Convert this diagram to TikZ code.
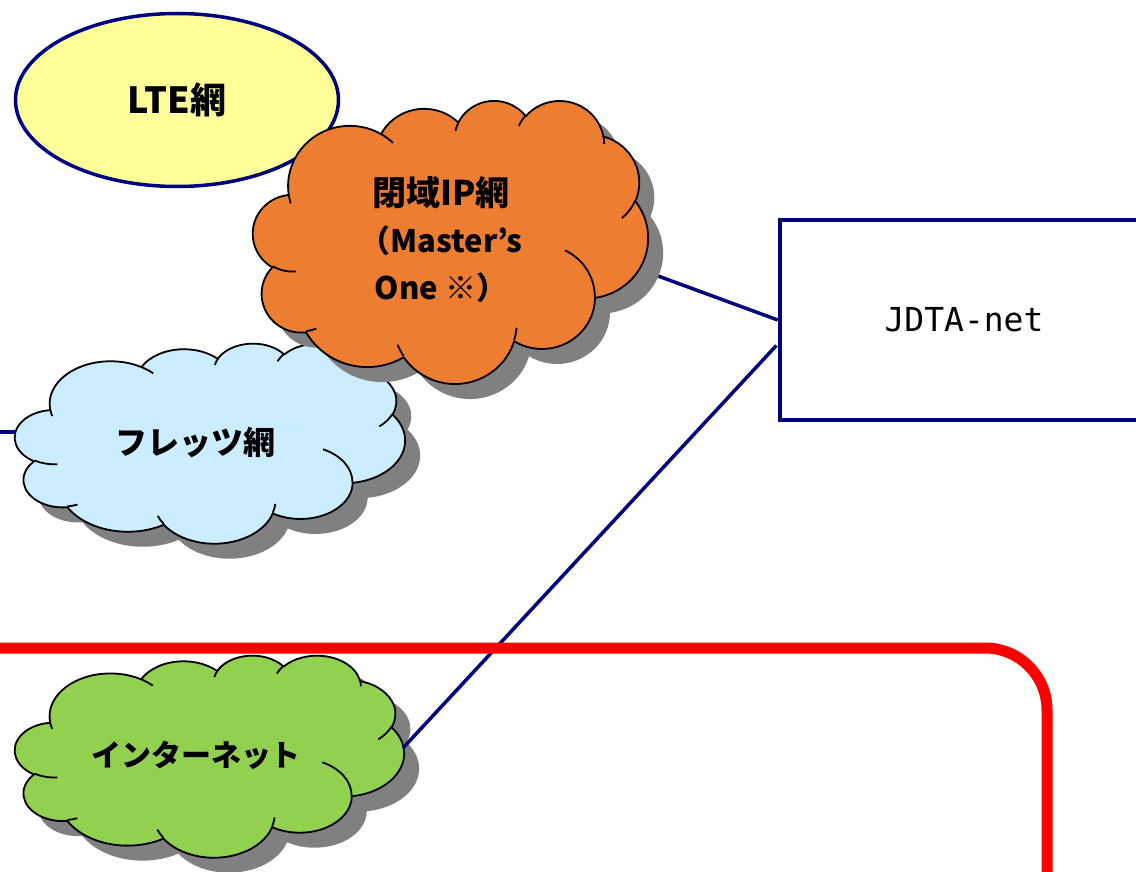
\documentclass[tikz,border=0pt]{standalone}
\usepackage{fontspec}
\setmainfont{Noto Sans CJK JP}
\newfontfamily\monofont{DejaVu Sans Mono}
\usetikzlibrary{calc,shapes.geometric,backgrounds}
\definecolor{navy}{HTML}{000080}
\definecolor{lteyellow}{HTML}{FFFF99}
\definecolor{iporange}{HTML}{ED7D31}
\definecolor{fletsblue}{HTML}{CCECFF}
\definecolor{netgreen}{HTML}{92D050}
\definecolor{shadowgray}{HTML}{808080}
\definecolor{redline}{HTML}{FF0000}

% parametric angle on ellipse (rx,ry) for a visual angle
\newcommand\pang[3]{((#3)+atan2(sin(atan2((#1)*sin(#3),(#2)*cos(#3))-(#3)),cos(atan2((#1)*sin(#3),(#2)*cos(#3))-(#3))))}
\newcommand\carc[4]{arc[start angle={\pang{#1}{#2}{#3}}, end angle={\pang{#1}{#2}{(#3)+(#4)}}, x radius=#1, y radius=#2]}

\newcommand\cloudouter{(9.028,33.264)
 \carc{15.632}{21.273}{-190.488}{123.781}
 \carc{12.345}{16.822}{-144.102}{89.945}
 \carc{10.104}{13.762}{-145.808}{99.723}
 \carc{11.243}{15.266}{-130.986}{117.242}
 \carc{12.345}{16.836}{-78.709}{109.027}
 \carc{15.683}{21.343}{-46.267}{130.269}
 \carc{13.391}{18.211}{0.625}{114.033}
 \carc{15.630}{21.331}{22.452}{115.173}
 \carc{17.870}{24.405}{66.243}{75.711}
 \carc{10.093}{13.699}{-274.942}{146.736}
 \carc{10.058}{13.762}{-246.829}{152.519}
 -- cycle}
\newcommand\cloudinner{
 (10.863,60.595) \carc{10.058}{13.762}{86.742}{26.430}
 (16.037,80.785) \carc{10.093}{13.699}{73.610}{11.447}
 (38.144,90.486) \carc{15.630}{21.331}{137.624}{14.081}
 (66.729,80.442) \carc{15.630}{21.331}{6.453}{15.998}
 (79.002,53.134) \carc{13.391}{18.211}{-70.292}{70.917}
 (96.755,35.542) \carc{12.345}{16.836}{30.318}{27.752}
 (88.713,12.560) \carc{11.243}{15.266}{-13.744}{14.859}
 (67.310,9.148) \carc{11.243}{15.266}{-149.181}{18.195}
 (51.252,10.926) \carc{10.104}{13.762}{-163.494}{17.686}
 (32.407,12.019) \carc{15.632}{21.273}{-66.707}{12.319}
 (9.553,36.549) \carc{15.632}{21.273}{157.654}{11.858}
}
% x0, y0, width/100, height/100, fill
\newcommand\pptcloud[5]{%
  \begin{scope}[shift={(#1+15,#2+15)}, x={(#3pt,0pt)}, y={(0pt,-#4pt)}]
    \fill[shadowgray] \cloudouter;
  \end{scope}
  \begin{scope}[shift={(#1,#2)}, x={(#3pt,0pt)}, y={(0pt,-#4pt)}]
    \filldraw[fill=#5, cloudline] \cloudouter;
    \draw[cloudline] \cloudinner;
  \end{scope}
}

\tikzset{
  cloudline/.style={draw=black, line width=1.8pt, line join=round},
  navyline/.style={draw=navy, line width=3.5pt},
  cloudtext/.style={font=\bfseries\fontsize{31}{47}\selectfont, align=center, inner sep=0pt},
}

\begin{document}
\begin{tikzpicture}[x=1pt, y=-1pt]
\useasboundingbox (0,0) rectangle (1136,872);
\clip (0,0) rectangle (1136,872);

% LTE ellipse
\node[ellipse, draw=navy, line width=3.5pt, fill=lteyellow, minimum width=323pt, minimum height=173pt,
      inner sep=0pt, font=\bfseries\fontsize{36}{40}\selectfont] (lte) at (177,100) {LTE網};

% clouds
\pptcloud{15}{343}{3.90}{2.00}{fletsblue}
\node[cloudtext, font=\bfseries\fontsize{32}{40}\selectfont] (flets) at (195,442) {フレッツ網};

\pptcloud{253}{100}{3.95}{2.83}{iporange}
\node[cloudtext] (ip) at (441,240) {{\fontsize{34}{47}\selectfont 閉域IP網}\\（Master’s\\One ※）};

\pptcloud{15}{655}{3.89}{2.02}{netgreen}
\node[cloudtext, font=\bfseries\fontsize{30}{40}\selectfont] (inet) at (196,755) {インターネット};

% JDTA-net box
\node[draw=navy, line width=4.5pt, fill=white, minimum width=368pt, minimum height=200pt,
      inner sep=0pt, font=\monofont\fontsize{33}{40}\selectfont] (jdta) at (964,320) {JDTA-net};

% connectors
\coordinate (inetR) at (403,748);
\draw[navyline, shorten >=2pt] (inetR) -- ($(jdta.west)+(0,24)$);
\coordinate (ipR) at (620,262);
\coordinate (offL) at (-5,432);
\coordinate (fletsL) at (30,432);
\begin{scope}[on background layer]
  \draw[navyline] (ipR) -- (jdta.west);
  \draw[navyline] (offL) -- (fletsL);
\end{scope}

% red boundary
\coordinate (rA) at (-10,648);
\coordinate (rC) at (1047,648);
\coordinate (rD) at (1047,890);
\draw[draw=redline, line width=11pt, rounded corners=62pt] (rA) -- (rC) -- (rD);
\end{tikzpicture}
\end{document}
